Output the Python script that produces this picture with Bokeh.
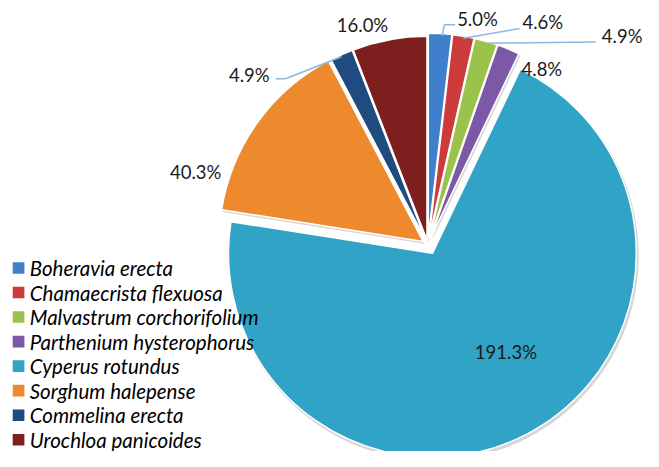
import math
from bokeh.plotting import figure
from bokeh.models import Range1d, ColumnDataSource
from bokeh.core.properties import value
from bokeh.embed import file_html
from bokeh.resources import INLINE

# ---- data ----
species = ["Boheravia erecta", "Chamaecrista flexuosa", " Malvastrum corchorifolium",
           "Parthenium hysterophorus", "Cyperus rotundus", "Sorghum halepense",
           "Commelina erecta", "Urochloa panicoides"]
values = [5.0, 4.6, 4.9, 4.8, 191.3, 40.3, 4.9, 16.0]
labels = ["5.0%", "4.6%", "4.9%", "4.8%", "191.3%", "40.3%", "4.9%", "16.0%"]

# ---- styles / layout (reference-pixel space 659 x 467) ----
colors = ["#3F7FCB", "#CC3B3B", "#9BC24B", "#7C59A6", "#31A3C6", "#EE8A2E", "#1F4B7E", "#7E1F1F"]
explode = [8, 8, 8, 8, 10, 6, 5, 5]
W, H = 659, 467
def Y(v):
    return H - v
CX, CY, R = 438.0, Y(253.0), 209.0

lab_pos = [(468, 19, "left"), (535, 22, "left"), (658, 37, "right"), (534, 71, "left"),
           (518, 364, "center"), (200, 178, "center"), (255, 77, "center"), (371, 25, "center")]
leaders = {0: [(455, 25), (466, 25)], 1: [(532, 29)], 2: [(610, 43)], 6: [(292, 81), (282, 81)]}
leader_ang_shift = {0: 0.6}

total = sum(values)
starts, ends, mids, cxs, cys = [], [], [], [], []
acc = 0.0
for v, e in zip(values, explode):
    a0 = acc / total * 360.0
    acc += v
    a1 = acc / total * 360.0
    m = (a0 + a1) / 2
    starts.append(math.radians(90 - a0))
    ends.append(math.radians(90 - a1))
    mids.append(m)
    cxs.append(CX + e * math.sin(math.radians(m)))
    cys.append(CY + e * math.cos(math.radians(m)))

p = figure(width=643, height=451, x_range=Range1d(0, W), y_range=Range1d(0, H),
           x_axis_type=None, y_axis_type=None, toolbar_location=None,
           output_backend="svg", min_border=0)
p.grid.visible = False
p.outline_line_color = None
p.background_fill_color = "white"

src = ColumnDataSource(dict(x=cxs, y=cys, s=starts, e=ends, c=colors,
                            sx=[x + 1.5 for x in cxs], sy=[y - 2.5 for y in cys]))
p.wedge(x="sx", y="sy", radius=R + 1, start_angle="s", end_angle="e", direction="clock",
        source=src, fill_color="#8a8a8a", fill_alpha=0.35, line_color=None)
p.wedge(x="x", y="y", radius=R, start_angle="s", end_angle="e", direction="clock",
        source=src, fill_color="c", line_color="white", line_width=1.5)

for i, pts in leaders.items():
    m = mids[i] + leader_ang_shift.get(i, 0.0)
    x0 = cxs[i] + R * math.sin(math.radians(m))
    y0 = cys[i] + R * math.cos(math.radians(m))
    xs = [x0] + [q[0] for q in pts]
    ys = [y0] + [Y(q[1]) for q in pts]
    p.line(xs, ys, line_color="#8FB8E0", line_width=1.5)

for lab, (lx, ly, al) in zip(labels, lab_pos):
    p.text(x=[lx], y=[Y(ly)], text=[lab], text_font=value("Lato"), text_font_size="18.5px",
           text_align=al, text_baseline="middle", text_color="#1a1a1a")

LX, LY0, LSTEP = 18.5, 277.0, 25.4
lx = [LX] * len(species)
ly = [Y(LY0 + i * LSTEP) for i in range(len(species))]
p.rect(x=lx, y=ly, width=12, height=12, fill_color=colors, line_color=None)
p.text(x=[LX + 11.5] * len(species), y=ly, text=species, text_font=value("Lato"),
       text_font_size="20.5px", text_font_style="italic", text_align="left",
       text_baseline="middle", text_color="#000000")

open("out.html", "w").write(file_html(p, INLINE))
